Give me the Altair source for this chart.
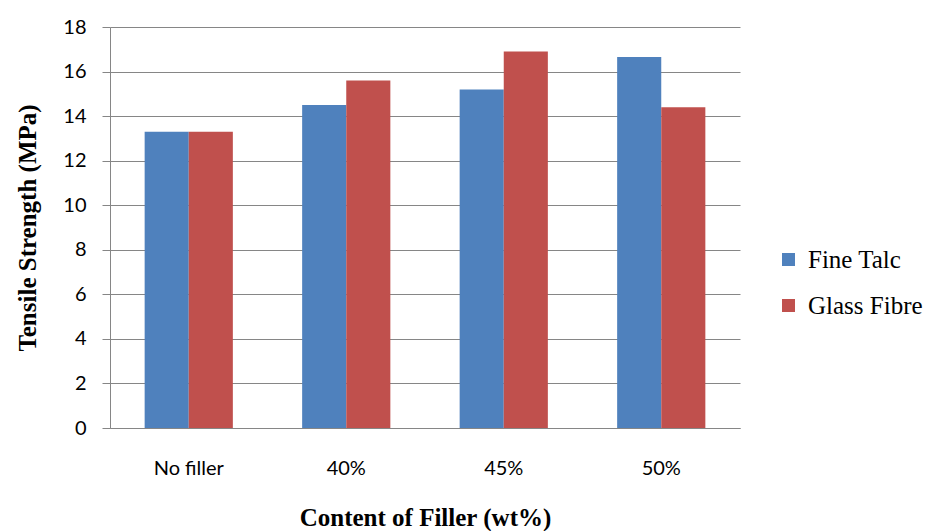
import altair as alt
import pandas as pd

# Tensile strength by filler content for two filler types
categories = ["No filler", "40%", "45%", "50%"]
fine_talc = [13.3, 14.5, 15.2, 16.65]
glass_fibre = [13.3, 15.6, 16.9, 14.4]
series_names = ["Fine Talc", "Glass Fibre"]
colors = ["#4F81BD", "#C0504D"]

rows = []
for cat, ft, gf in zip(categories, fine_talc, glass_fibre):
    rows.append({"content": cat, "filler": series_names[0], "strength": ft})
    rows.append({"content": cat, "filler": series_names[1], "strength": gf})
df = pd.DataFrame(rows)

label_font = "Lato"
title_font = "Liberation Serif"

chart = (
    alt.Chart(df)
    .mark_bar()
    .encode(
        x=alt.X(
            "content:N",
            sort=categories,
            scale=alt.Scale(paddingInner=0.44, paddingOuter=0.22),
            axis=alt.Axis(
                title="Content of Filler (wt%)",
                labelAngle=0,
                ticks=False,
                domain=True,
                labelPadding=30,
                titlePadding=27,
            ),
        ),
        xOffset=alt.XOffset("filler:N", sort=series_names),
        y=alt.Y(
            "strength:Q",
            scale=alt.Scale(domain=[0, 18]),
            axis=alt.Axis(
                title="Tensile Strength (MPa)",
                values=list(range(0, 19, 2)),
                tickSize=8,
                labelPadding=16,
                titlePadding=22,
                grid=True,
            ),
        ),
        color=alt.Color(
            "filler:N",
            sort=series_names,
            scale=alt.Scale(domain=series_names, range=colors),
            legend=alt.Legend(
                title=None,
                orient="none",
                legendX=666,
                legendY=220,
                symbolType="square",
                symbolSize=170,
                symbolStrokeWidth=0,
                labelFont=title_font,
                labelFontSize=25,
                labelColor="#000000",
                rowPadding=20,
                labelOffset=7,
            ),
        ),
    )
    .properties(
        width=630,
        height=401,
        autosize=alt.AutoSizeParams(type="none"),
        padding={"left": 110, "top": 27, "right": 192, "bottom": 103},
    )
    .configure_view(stroke=None)
    .configure_legend(labelFont=title_font, labelFontSize=25, labelLimit=200)
    .configure_axis(
        domainColor="#868686",
        tickColor="#868686",
        gridColor="#868686",
        labelFont=label_font,
        labelFontSize=20,
        labelColor="#000000",
        titleFont=title_font,
        titleFontSize=25,
        titleFontWeight="bold",
        titleColor="#000000",
    )
    .configure_axisX(grid=False)
)

chart.save("out.html", embed_options={"renderer": "svg", "actions": False})
